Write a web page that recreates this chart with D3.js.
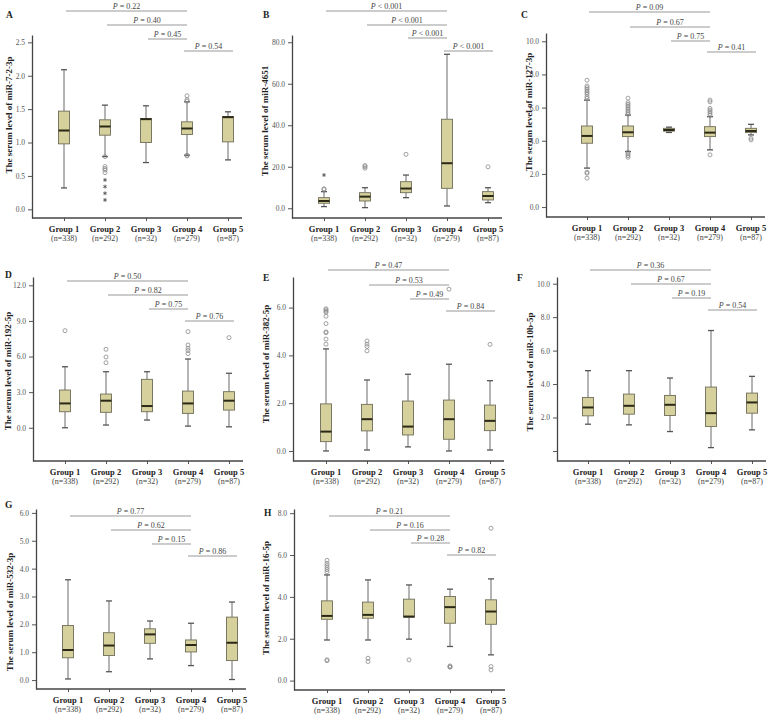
<!DOCTYPE html>
<html><head><meta charset="utf-8">
<script src="https://cdn.jsdelivr.net/npm/d3@7"></script>
<style>body{margin:0;background:#fff} svg{display:block} text{font-family:"Liberation Serif","Times New Roman",serif}</style>
</head><body><svg id="chart" width="769" height="720"></svg>
<script>
const groups = ["Group 1","Group 2","Group 3","Group 4","Group 5"];
const groupN = ["(n=338)","(n=292)","(n=32)","(n=279)","(n=87)"];
const panelLetters = ["A","B","C","D","E","F","G","H"];
const mirNames = ["miR-7-2-3p","miR-4651","miR-127-3p","miR-192-5p","miR-382-5p","miR-10b-5p","miR-532-3p","miR-16-5p"];
const comparisons = [[0,3],[1,3],[2,3],[3,4]];

// [whisker low, Q1, median, Q3, whisker high] per group
const boxA = [[0.32,0.98,1.18,1.47,2.09],[0.79,1.11,1.24,1.34,1.56],[0.70,1.00,1.35,1.36,1.55],[0.81,1.12,1.21,1.31,1.61],[0.74,1.01,1.38,1.39,1.46]];
const boxB = [[0.8,2.4,3.5,5.1,8.0],[0.3,3.5,5.6,7.5,9.9],[5.1,7.5,9.5,12.8,16.0],[1.1,9.6,21.7,42.9,74.2],[2.7,4.0,5.9,8.0,9.9]];
const boxC = [[2.35,3.85,4.29,4.89,6.45],[3.35,4.25,4.51,4.89,5.55],[4.50,4.58,4.65,4.75,4.82],[3.45,4.25,4.49,4.85,5.45],[4.35,4.49,4.59,4.75,4.99]];
const boxD = [[0.00,1.35,2.05,3.18,5.14],[0.23,1.30,2.28,2.84,4.72],[0.65,1.35,1.83,4.08,4.72],[0.14,1.21,2.05,3.09,5.79],[0.08,1.49,2.28,3.04,4.59]];
const boxE = [[0.00,0.39,0.81,1.97,4.27],[0.04,0.84,1.33,1.95,2.97],[0.17,0.67,1.02,2.09,3.21],[0.00,0.49,1.33,2.13,3.63],[0.04,0.85,1.26,1.92,2.94]];
const boxF = [[1.60,2.10,2.60,3.20,4.80],[1.56,2.20,2.70,3.40,4.80],[1.16,2.12,2.76,3.32,4.36],[0.20,1.46,2.26,3.82,7.20],[1.26,2.26,2.90,3.46,4.46]];
const boxG = [[0.04,0.80,1.08,1.96,3.60],[0.30,0.88,1.24,1.70,2.84],[0.76,1.32,1.64,1.84,2.12],[0.52,1.01,1.26,1.44,2.04],[0.02,0.70,1.34,2.26,2.80]];
const boxH = [[1.94,2.93,3.09,3.81,5.05],[1.94,2.98,3.14,3.75,4.81],[1.98,3.03,3.06,3.89,4.57],[1.63,2.74,3.51,4.02,4.37],[1.23,2.69,3.30,3.86,4.86]];

// outliers (circles) per group
const outA = [[],[0.79,0.64,0.61,0.59,0.55],[],[1.62,1.64,1.70,0.80,0.81],[]];
const outB = [[9.0,9.4],[19.3,20.0,20.6],[26.0],[],[20.0]];
const outC = [[7.65,7.3,7.2,7.1,7.0,6.9,6.8,6.65,6.55,2.1,2.04,1.74],[6.57,6.3,6.2,6.1,6.0,5.9,5.8,5.7,5.6,3.3,3.2,3.1,3.0],[],[6.45,6.35,5.95,5.85,5.75,5.65,5.55,3.15],[4.15,4.05]];
const outD = [[8.18],[6.61,5.96,5.48],[],[8.10,6.97,6.70,6.50,6.25],[7.59]];
const outE = [[5.95,5.9,5.85,5.8,5.64,5.33,4.98,4.95,4.68,4.47],[4.60,4.47,4.37,4.19],[],[6.77],[4.46]];
const outF = [[],[],[],[],[]];
const outG = [[],[],[],[],[]];
const outH = [[5.75,5.6,5.5,5.4,5.3,5.2,0.99,0.95],[1.07,0.91],[0.99],[0.70,0.66,0.64],[7.28,0.67,0.51]];

// extreme values (asterisks) per group
const starA = [[],[0.44,0.34,0.24,0.14],[],[],[]];
const starB = [[16.0],[],[],[],[]];
const starNone = [[],[],[],[],[]];

// P-value labels per comparison
const pA = ["= 0.22","= 0.40","= 0.45","= 0.54"];
const pB = ["< 0.001","< 0.001","< 0.001","< 0.001"];
const pC = ["= 0.09","= 0.67","= 0.75","= 0.41"];
const pD = ["= 0.50","= 0.82","= 0.75","= 0.76"];
const pE = ["= 0.47","= 0.53","= 0.49","= 0.84"];
const pF = ["= 0.36","= 0.67","= 0.19","= 0.54"];
const pG = ["= 0.77","= 0.62","= 0.15","= 0.86"];
const pH = ["= 0.21","= 0.16","= 0.28","= 0.82"];

const ticksA = [0,0.5,1,1.5,2,2.5];
const ticksB = [0,20,40,60,80];
const ticksC = [0,2,4,6,8,10];
const ticksD = [0,3,6,9,12];
const ticksE = [0,2,4,6];
const ticksF = [0,2,4,6,8,10];
const ticksG = [0,1,2,3,4,5,6];
const ticksH = [0,2,4,6,8];

const panels = [
  {box:boxA,out:outA,star:starA,p:pA,ticks:ticksA,dom:[-0.13,2.61]},
  {box:boxB,out:outB,star:starB,p:pB,ticks:ticksB,dom:[-4.7,83.5]},
  {box:boxC,out:outC,star:starNone,p:pC,ticks:ticksC,dom:[-0.6,10.5]},
  {box:boxD,out:outD,star:starNone,p:pD,ticks:ticksD,dom:[-2.8,12.7]},
  {box:boxE,out:outE,star:starNone,p:pE,ticks:ticksE,dom:[-0.42,7.28]},
  {box:boxF,out:outF,star:starNone,p:pF,ticks:ticksF,dom:[-0.6,10.4],hideZero:true},
  {box:boxG,out:outG,star:starNone,p:pG,ticks:ticksG,dom:[-0.32,6.14]},
  {box:boxH,out:outH,star:starNone,p:pH,ticks:ticksH,dom:[-0.45,8.2]}
];

// layout (pixels)
const layout = [
  {ax:32, top:35, base:218, gx:32, pY:[11,25,39,51], tX:9, tY:115, lX:6, lY:18},
  {ax:292, top:35, base:218, gx:32, pY:[11,25,38,51], tX:265, tY:121, lX:263, lY:18},
  {ax:546, top:33, base:217, gx:41, pY:[12,27,41,52], tX:529, tY:112, lX:521, lY:18},
  {ax:33, top:277, base:461, gx:32, pY:[281,295,309,321], tX:8, tY:371, lX:5, lY:278},
  {ax:293, top:277, base:461, gx:33, pY:[270,285,299,311], tX:266, tY:364, lX:263, lY:281},
  {ax:557, top:277, base:461, gx:31, pY:[270,284,298,310], tX:530, tY:372, lX:517, lY:281},
  {ax:36, top:509, base:689, gx:32, pY:[516,530,544,556], tX:10, tY:612, lX:5, lY:508},
  {ax:294, top:509, base:690, gx:33, pY:[516,530,543,555], tX:266, tY:598, lX:264, lY:516}
];

const svg = d3.select("#chart");
const BOXW = 11, CAPW = 6;

panels.forEach((P, k) => {
  const L = layout[k];
  const g = svg.append("g");
  const y = d3.scaleLinear().domain(P.dom).range([L.base, L.top]);
  const x = d3.scalePoint().domain(groups).range([L.ax + L.gx, L.ax + L.gx + 164]);

  // y axis
  const yAxis = d3.axisLeft(y).tickValues(P.ticks).tickSize(4).tickSizeOuter(0).tickPadding(3)
    .tickFormat(d => (P.hideZero && d === 0) ? "" : d3.format(".1f")(d));
  const ya = g.append("g").attr("transform", `translate(${L.ax},0)`).call(yAxis);
  ya.select(".domain").attr("stroke", "#444").attr("stroke-width", 1.3);
  ya.selectAll(".tick line").attr("stroke", "#555");
  ya.selectAll(".tick text").attr("font-size", 7.5).attr("fill", "#555")
    .style("font-family", "'Liberation Serif',serif");

  // x axis
  const xAxis = d3.axisBottom(x).tickSize(3).tickSizeOuter(0).tickFormat("");
  const xa = g.append("g").attr("transform", `translate(0,${L.base})`).call(xAxis);
  xa.select(".domain").remove();
  xa.selectAll(".tick line").attr("stroke", "#555");
  g.append("line").attr("x1", L.ax).attr("x2", x(groups[4]) + 14)
    .attr("y1", L.base).attr("y2", L.base).attr("stroke", "#444").attr("stroke-width", 1.3);

  groups.forEach((gr, i) => {
    g.append("text").attr("x", x(gr)).attr("y", L.base + 14).attr("text-anchor", "middle")
      .attr("font-size", 8.5).attr("font-weight", "bold").attr("fill", "#222").text(gr);
    g.append("text").attr("x", x(gr)).attr("y", L.base + 23).attr("text-anchor", "middle")
      .attr("font-size", 8).attr("fill", "#444").text(groupN[i]);
  });

  // y title
  g.append("text").attr("transform", `translate(${L.tX},${L.tY}) rotate(-90)`)
    .attr("text-anchor", "middle").attr("dominant-baseline", "central")
    .attr("font-size", 9).attr("font-weight", "bold").attr("fill", "#222")
    .text("The serum level of " + mirNames[k]);

  // panel letter
  g.append("text").attr("x", L.lX).attr("y", L.lY).attr("font-size", 9.5)
    .attr("font-weight", "bold").attr("fill", "#222").text(panelLetters[k]);

  // boxes
  P.box.forEach((b, i) => {
    const cx = x(groups[i]);
    const [lo, q1, md, q3, hi] = b;
    g.append("line").attr("x1", cx).attr("x2", cx).attr("y1", y(hi)).attr("y2", y(q3))
      .attr("stroke", "#6a6a6a").attr("stroke-width", 1);
    g.append("line").attr("x1", cx).attr("x2", cx).attr("y1", y(q1)).attr("y2", y(lo))
      .attr("stroke", "#6a6a6a").attr("stroke-width", 1);
    [hi, lo].forEach(v => g.append("line").attr("x1", cx - CAPW / 2).attr("x2", cx + CAPW / 2)
      .attr("y1", y(v)).attr("y2", y(v)).attr("stroke", "#555").attr("stroke-width", 1.3));
    g.append("rect").attr("x", cx - BOXW / 2).attr("width", BOXW)
      .attr("y", y(q3)).attr("height", Math.max(1, y(q1) - y(q3)))
      .attr("fill", "#d6d19c").attr("stroke", "#6f6d58").attr("stroke-width", 0.9);
    g.append("line").attr("x1", cx - BOXW / 2).attr("x2", cx + BOXW / 2)
      .attr("y1", y(md)).attr("y2", y(md)).attr("stroke", "#2a2816").attr("stroke-width", 2);

    P.out[i].forEach(v => g.append("circle").attr("cx", cx).attr("cy", y(v)).attr("r", 2)
      .attr("fill", "none").attr("stroke", "#8a8a8a").attr("stroke-width", 0.8));
    P.star[i].forEach(v => {
      if (d3.symbolAsterisk) {
        g.append("path").attr("d", d3.symbol(d3.symbolAsterisk, 10)())
          .attr("transform", `translate(${cx},${y(v)})`).attr("fill", "none")
          .attr("stroke", "#555").attr("stroke-width", 0.9);
      } else {
        g.append("text").attr("x", cx).attr("y", y(v) + 3).attr("text-anchor", "middle")
          .attr("font-size", 8).attr("fill", "#555").text("*");
      }
    });
  });

  // P-value brackets
  comparisons.forEach((c, j) => {
    const last = j === 3;
    const x1 = x(groups[c[0]]) + (last ? -3 : 2);
    const x2 = x(groups[c[1]]) + (last ? 5 : 0);
    const ly = L.pY[j];
    g.append("line").attr("x1", x1).attr("x2", x2).attr("y1", ly).attr("y2", ly)
      .attr("stroke", "#999").attr("stroke-width", 1);
    const t = g.append("text").attr("x", (x1 + x2) / 2).attr("y", ly - 2.5)
      .attr("text-anchor", "middle").attr("font-size", 8).attr("fill", "#444");
    t.append("tspan").attr("font-style", "italic").text("P");
    t.append("tspan").text(" " + P.p[j]);
  });
});
</script></body></html>
